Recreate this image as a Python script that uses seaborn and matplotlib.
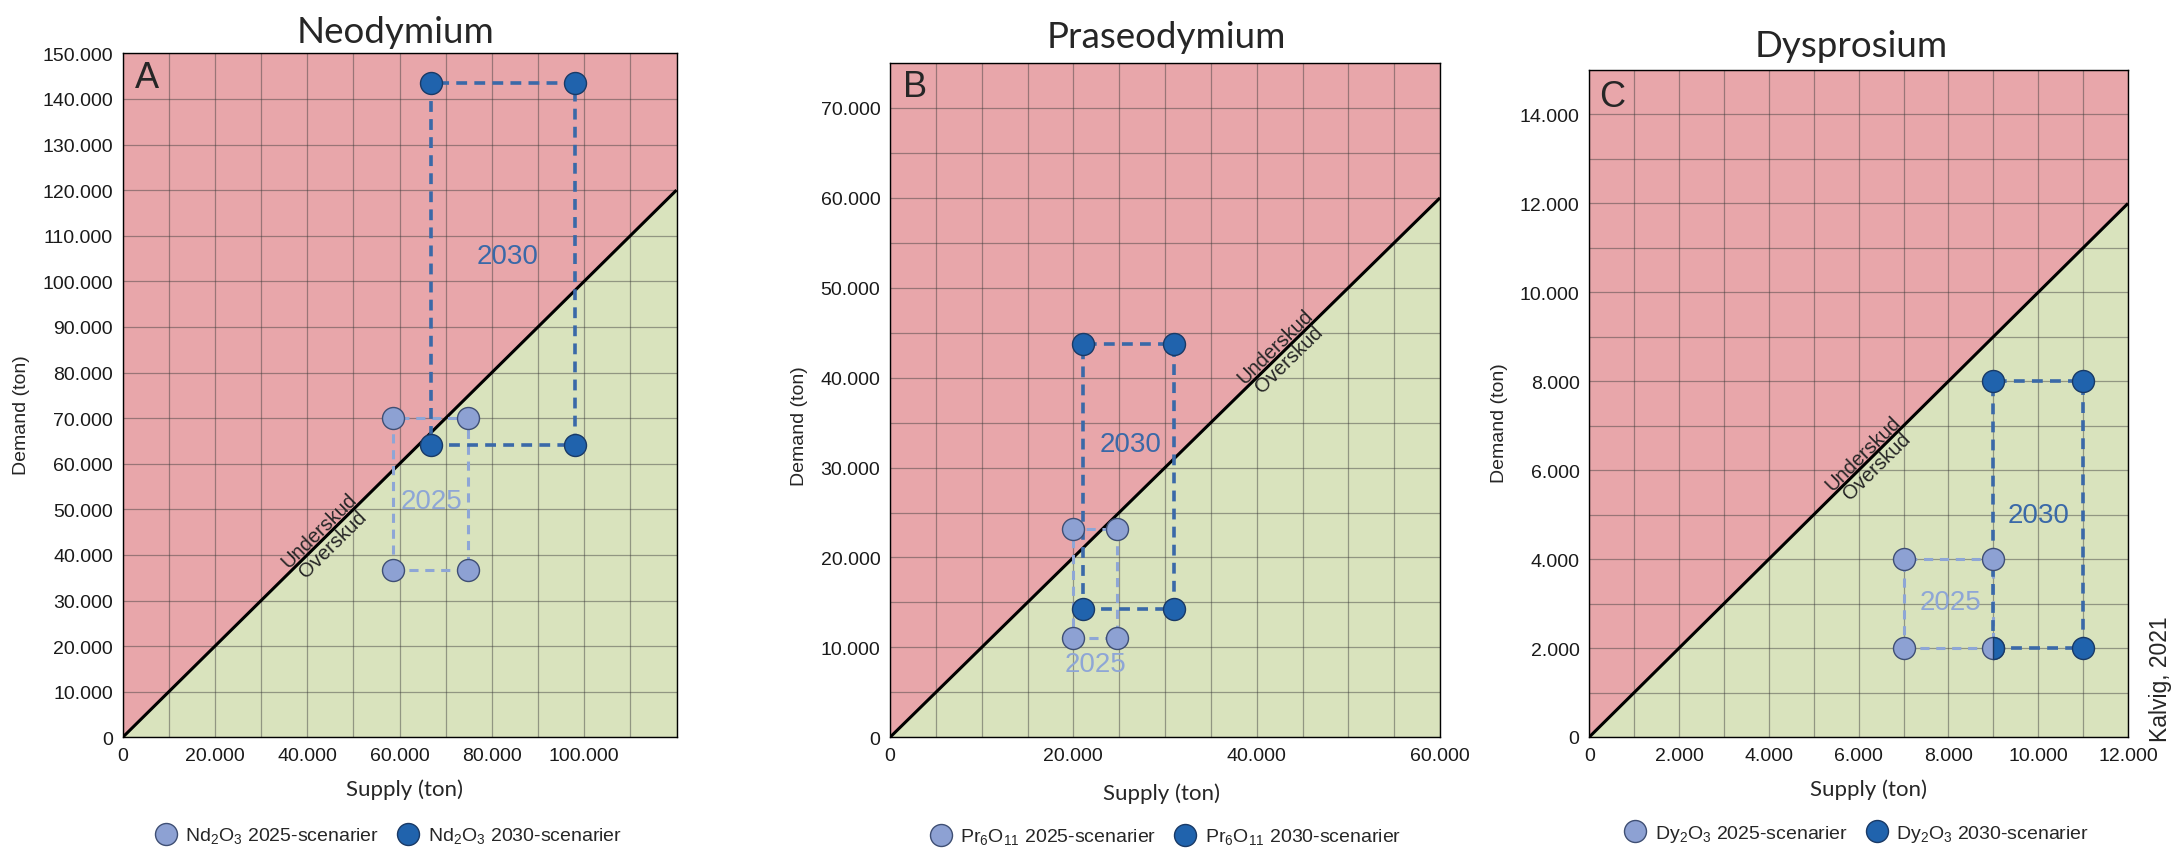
import numpy as np
import pandas as pd
import matplotlib
matplotlib.use("Agg")
import matplotlib.pyplot as plt
from matplotlib.path import Path
from matplotlib.lines import Line2D
from matplotlib.ticker import FuncFormatter, MultipleLocator
import seaborn as sns

sns.set_style("white")
plt.rcParams["font.family"] = ["Liberation Sans", "DejaVu Sans"]
plt.rcParams["mathtext.fontset"] = "custom"
plt.rcParams["mathtext.rm"] = "Liberation Sans"

# ---- data: supply/demand scenario corners (ton) ----
elements = ["Neodymium", "Praseodymium", "Dysprosium"]
panel_letters = ["A", "B", "C"]
oxide_labels = [r"Nd$_\mathregular{2}$O$_\mathregular{3}$",
                r"Pr$_\mathregular{6}$O$_\mathregular{11}$",
                r"Dy$_\mathregular{2}$O$_\mathregular{3}$"]

nd_supply_2025 = [58500, 74800]
nd_demand_2025 = [36700, 70000]
nd_supply_2030 = [66800, 97900]
nd_demand_2030 = [64200, 143500]

pr_supply_2025 = [20000, 24800]
pr_demand_2025 = [11000, 23200]
pr_supply_2030 = [21000, 31000]
pr_demand_2030 = [14300, 43800]

dy_supply_2025 = [7000, 9000]
dy_demand_2025 = [2000, 4000]
dy_supply_2030 = [9000, 11000]
dy_demand_2030 = [2000, 8000]

x_limits = [120000, 60000, 12000]
y_limits = [150000, 75000, 15000]
x_tick_step = [20000, 20000, 2000]
x_tick_max = [100000, 60000, 12000]
y_tick_step = [10000, 10000, 2000]
y_tick_max = [150000, 70000, 14000]
grid_step_x = [10000, 5000, 1000]
grid_step_y = [10000, 5000, 1000]

supply_2025 = [nd_supply_2025, pr_supply_2025, dy_supply_2025]
demand_2025 = [nd_demand_2025, pr_demand_2025, dy_demand_2025]
supply_2030 = [nd_supply_2030, pr_supply_2030, dy_supply_2030]
demand_2030 = [nd_demand_2030, pr_demand_2030, dy_demand_2030]

# ---- styling ----
RED = "#e8a6aa"
GREEN = "#d9e3bd"
LIGHT = "#8da1d3"
DARK = "#2063ad"
LIGHT_LINE = "#8ea6d6"
DARK_LINE = "#3a69a8"
LIGHT_EDGE = "#3f4f74"
DARK_EDGE = "#1a3a66"

W, H = 2172, 853
fig = plt.figure(figsize=(W / 100, H / 100), dpi=100)

# axes boxes in pixels: left, top, right, bottom
boxes = [(122.7, 54.3, 676.5, 738.3), (890, 64, 1440, 738.3), (1589.3, 71, 2128, 738)]
title_pos = [(396, 43.3), (1166, 48.3), (1851, 56.7)]
ylabel_coords = [(-0.182, 0.472), (-0.164, 0.463), (-0.167, 0.472)]
xlabel_coords = [(0.508, -0.0756), (0.493, -0.0816), (0.519, -0.0775)]
letter_coords = [(0.0433, 0.964), (0.0455, 0.965), (0.0416, 0.961)]
legend_anchor = [(0.479, -0.144), (0.50, -0.148), (0.496, -0.145)]
label_2030 = [(83400, 105600), (26200, 32600), (10000, 5000)]
label_2025 = [(66900, 51900), (22400, 8100), (8040, 3030)]
diag_t = [44000, 42800, 6250]
MARKER_PT = 22 * 0.72


def half_circle():
    arc = Path.arc(-90, 90)
    verts = np.vstack([arc.vertices, arc.vertices[:1]])
    codes = np.append(arc.codes, Path.CLOSEPOLY)
    return Path(verts, codes)


def rectangle_frame(xs, ys):
    x0, x1 = xs
    y0, y1 = ys
    return pd.DataFrame({"supply": [x0, x1, x1, x0, x0],
                         "demand": [y0, y0, y1, y1, y0]})


def corners(xs, ys):
    return pd.DataFrame([(x, y) for x in xs for y in ys], columns=["supply", "demand"])


thousands = FuncFormatter(lambda v, p: f"{int(round(v)):,}".replace(",", "."))

for i in range(3):
    l, t, r, b = boxes[i]
    ax = fig.add_axes([l / W, 1 - b / H, (r - l) / W, (b - t) / H])
    xmax, ymax = x_limits[i], y_limits[i]

    # surplus / deficit regions split by demand = supply
    ax.fill_between([0, xmax], [0, xmax], ymax, color=RED, lw=0, zorder=0.2)
    ax.fill_between([0, xmax], 0, [0, xmax], color=GREEN, lw=0, zorder=0.2)
    ax.plot([0, xmax], [0, xmax], color="black", lw=2.2, zorder=2, solid_capstyle="butt")

    ax.set_xlim(0, xmax)
    ax.set_ylim(0, ymax)
    ax.set_axisbelow(True)
    ax.xaxis.set_minor_locator(MultipleLocator(grid_step_x[i]))
    ax.yaxis.set_minor_locator(MultipleLocator(grid_step_y[i]))
    ax.set_xticks(np.arange(0, x_tick_max[i] + 1, x_tick_step[i]))
    ax.set_yticks(np.arange(0, y_tick_max[i] + 1, y_tick_step[i]))
    ax.xaxis.set_major_formatter(thousands)
    ax.yaxis.set_major_formatter(thousands)
    ax.grid(which="both", color="#3a3a3a", alpha=0.45, lw=0.9)
    ax.tick_params(which="minor", length=0)
    ax.tick_params(which="major", length=3, width=0.8, color="#555555",
                   labelsize=14, pad=4, labelcolor="#1a1a1a")
    for sp in ax.spines.values():
        sp.set_color("black")
        sp.set_linewidth(1.0)

    # dashed scenario rectangles
    sns.lineplot(data=rectangle_frame(supply_2025[i], demand_2025[i]), x="supply", y="demand",
                 sort=False, estimator=None, ax=ax, color=LIGHT_LINE, lw=2.2,
                 linestyle=(0, (3.0, 2.2)), zorder=3)
    sns.lineplot(data=rectangle_frame(supply_2030[i], demand_2030[i]), x="supply", y="demand",
                 sort=False, estimator=None, ax=ax, color=DARK_LINE, lw=2.6,
                 linestyle=(0, (3.0, 2.0)), zorder=3.1)

    pts25 = corners(supply_2025[i], demand_2025[i])
    pts30 = corners(supply_2030[i], demand_2030[i])
    sns.scatterplot(data=pts25, x="supply", y="demand", ax=ax, marker="o", s=MARKER_PT ** 2,
                    color=LIGHT, edgecolor=LIGHT_EDGE, linewidth=1.0, zorder=4, legend=False)
    shared = pts30.merge(pts25, on=["supply", "demand"], how="left", indicator=True)
    own30 = pts30[(shared["_merge"] == "left_only").values]
    both = pts30[(shared["_merge"] == "both").values]
    sns.scatterplot(data=own30, x="supply", y="demand", ax=ax, marker="o", s=MARKER_PT ** 2,
                    color=DARK, edgecolor=DARK_EDGE, linewidth=1.0, zorder=4.1, legend=False)
    if len(both):
        # a point shared by both scenarios: right half in the 2030 colour
        sns.scatterplot(data=both, x="supply", y="demand", ax=ax, marker=half_circle(),
                        s=MARKER_PT ** 2, color=DARK, edgecolor=DARK_EDGE, linewidth=1.0,
                        zorder=4.2, legend=False)

    # scenario year labels
    ax.text(*label_2030[i], "2030", color=DARK_LINE, fontsize=20,
            ha="center", va="center", zorder=5)
    ax.text(*label_2025[i], "2025", color=LIGHT_LINE, fontsize=20,
            ha="center", va="center", zorder=5)

    # labels along the balance line
    td = diag_t[i]
    ax.text(td, td, "Underskud", rotation=45, transform_rotates_text=True,
            rotation_mode="anchor", ha="center", va="bottom", fontsize=14.5, zorder=5)
    ax.text(td, td, "Overskud", rotation=45, transform_rotates_text=True,
            rotation_mode="anchor", ha="center", va="top", fontsize=14.5, zorder=5)

    ax.text(*letter_coords[i], panel_letters[i], transform=ax.transAxes, fontsize=26,
            ha="center", va="center", zorder=6)

    ax.set_xlabel("Supply (ton)", family=["Lato", "DejaVu Sans"], fontsize=16)
    ax.xaxis.set_label_coords(*xlabel_coords[i])
    ax.xaxis.label.set_va("center")
    ax.set_ylabel("Demand (ton)", fontsize=14)
    ax.yaxis.set_label_coords(*ylabel_coords[i])
    ax.yaxis.label.set_va("center")

    fig.text(title_pos[i][0] / W, 1 - title_pos[i][1] / H, elements[i],
             family=["Lato", "DejaVu Sans"], fontsize=26.5, ha="center", va="baseline")

    handles = [Line2D([], [], ls="none", marker="o", ms=MARKER_PT, mfc=LIGHT, mec=LIGHT_EDGE, mew=1.0),
               Line2D([], [], ls="none", marker="o", ms=MARKER_PT, mfc=DARK, mec=DARK_EDGE, mew=1.0)]
    labels = [f"{oxide_labels[i]} 2025-scenarier", f"{oxide_labels[i]} 2030-scenarier"]
    ax.legend(handles, labels, loc="center", bbox_to_anchor=legend_anchor[i], ncol=2,
              frameon=False, fontsize=14, handletextpad=0.4, columnspacing=0.9,
              borderaxespad=0, handlelength=1.2)

fig.text(2160.3 / W, 1 - 678.7 / H, "Kalvig, 2021", rotation=90, fontsize=16.5,
         ha="center", va="center")

fig.savefig("out.png", dpi=100)
